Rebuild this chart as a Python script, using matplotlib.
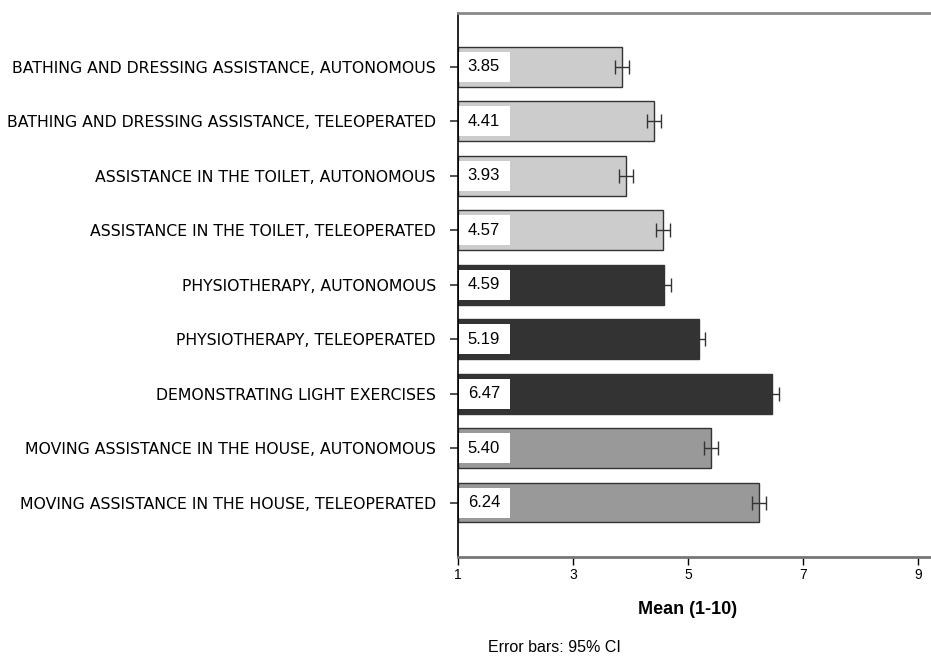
import matplotlib.pyplot as plt
import numpy as np

# categories, top to bottom
labels = [
    "BATHING AND DRESSING ASSISTANCE, AUTONOMOUS",
    "BATHING AND DRESSING ASSISTANCE, TELEOPERATED",
    "ASSISTANCE IN THE TOILET, AUTONOMOUS",
    "ASSISTANCE IN THE TOILET, TELEOPERATED",
    "PHYSIOTHERAPY, AUTONOMOUS",
    "PHYSIOTHERAPY, TELEOPERATED",
    "DEMONSTRATING LIGHT EXERCISES",
    "MOVING ASSISTANCE IN THE HOUSE, AUTONOMOUS",
    "MOVING ASSISTANCE IN THE HOUSE, TELEOPERATED",
]
means = [3.85, 4.41, 3.93, 4.57, 4.59, 5.19, 6.47, 5.40, 6.24]
ci = [0.12, 0.12, 0.12, 0.12, 0.12, 0.11, 0.11, 0.12, 0.12]
groups = ["care", "care", "care", "care", "phys", "phys", "phys", "move", "move"]
group_colors = {"care": "#cccccc", "phys": "#333333", "move": "#999999"}

xticks = [1, 3, 5, 7, 9]

fig = plt.figure(figsize=(9.31, 6.57), dpi=100)
ax = fig.add_axes([458 / 931, 1 - 557 / 657, 1 - 458 / 931, (557 - 13) / 657])

y = np.arange(len(labels))
colors = [group_colors[g] for g in groups]
ax.barh(y, np.array(means) - 1, left=1, height=0.73, color=colors,
        edgecolor="#333333", linewidth=1.0, zorder=2)
ax.errorbar(means, y, xerr=ci, fmt="none", ecolor="#333333", elinewidth=1,
            capsize=4.8, capthick=1, zorder=3)

# white value boxes at the start of each bar
ax.barh(y, 0.88, left=1.02, height=0.55, color="white", linewidth=0, zorder=4)
for yi, m in zip(y, means):
    ax.text(1.17, yi, f"{m:.2f}", va="center", ha="left", fontsize=12,
            family="Liberation Sans", zorder=5)

ax.set_xlim(1, 9.23)
ax.set_ylim(9.0, -0.99)
ax.set_yticks(y)
ax.set_yticklabels(labels, fontsize=11.3, family="DejaVu Sans")
ax.set_xticks(xticks)
ax.set_xticklabels([str(t) for t in xticks], fontsize=10, family="Liberation Sans")
ax.tick_params(axis="y", length=6, width=1.2, pad=10, color="#333333")
ax.tick_params(axis="x", length=6, width=1, pad=2)

ax.spines["right"].set_visible(False)
ax.spines["top"].set_color("#888888")
ax.spines["top"].set_linewidth(2)
ax.spines["bottom"].set_color("#777777")
ax.spines["bottom"].set_linewidth(2)
ax.spines["left"].set_linewidth(1.2)

ax.set_xlabel("Mean (1-10)", fontsize=13, fontweight="bold",
              family="Liberation Sans")
ax.xaxis.set_label_coords((688 - 458) / (931 - 458), -(609 - 557) / 544)
ax.xaxis.label.set_va("center")
fig.text(488 / 931, 1 - 647 / 657, "Error bars: 95% CI", fontsize=11.5,
         family="Liberation Sans", va="center", ha="left")

fig.savefig("out.png", dpi=100)
